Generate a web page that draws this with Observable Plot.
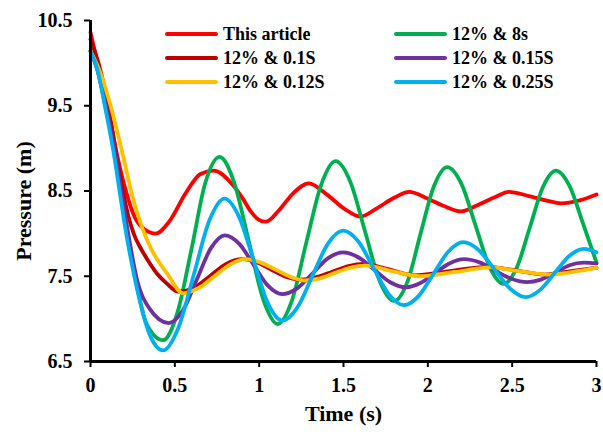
<!DOCTYPE html>
<html><head><meta charset="utf-8">
<script src="https://cdn.jsdelivr.net/npm/d3@7"></script>
<script src="https://cdn.jsdelivr.net/npm/@observablehq/plot@0.6"></script>
<style>
body{margin:0;background:#fff;}
#wrap{position:relative;width:603px;height:432px;font-family:'Liberation Serif','Tinos','DejaVu Serif','Noto Serif',serif;}
#legend{position:absolute;left:0;top:0;width:603px;height:0;}
.item{position:absolute;display:flex;align-items:center;font-weight:bold;font-size:18px;white-space:nowrap;color:#000;height:22px;}
.sw{width:53px;height:4px;border-radius:2px;margin-right:5px;}
</style></head><body><div id="wrap"><div id="legend"></div></div>
<script>
const seriesNames = ["This article", "12% & 8s", "12% & 0.1S", "12% & 0.15S", "12% & 0.12S", "12% & 0.25S"];
const seriesColors = ["#FF0000", "#00B050", "#C00000", "#7030A0", "#FFC000", "#00B0F0"];
const xTicks = [0, 0.5, 1, 1.5, 2, 2.5, 3];
const yTicks = [6.5, 7.5, 8.5, 9.5, 10.5];
const xTitle = "Time (s)";
const yTitle = "Pressure (m)";

const tArticle = [0, 0.059, 0.1, 0.16, 0.21, 0.25, 0.297, 0.386, 0.47, 0.563, 0.652, 0.73, 0.84, 0.9, 0.95, 1.0, 1.04, 1.12, 1.2, 1.295, 1.4, 1.5, 1.6, 1.7, 1.8, 1.89, 2.0, 2.1, 2.195, 2.3, 2.4, 2.48, 2.6, 2.7, 2.79, 2.9, 3.0];
const pArticle = [10.36, 9.85, 9.5, 8.9, 8.5, 8.25, 8.09, 8.0, 8.15, 8.47, 8.70, 8.74, 8.58, 8.42, 8.26, 8.16, 8.14, 8.28, 8.47, 8.59, 8.46, 8.3, 8.2, 8.3, 8.42, 8.49, 8.41, 8.32, 8.26, 8.34, 8.43, 8.49, 8.44, 8.39, 8.355, 8.39, 8.46];

const t8s = [0, 0.04, 0.088, 0.148, 0.178, 0.21, 0.265, 0.33, 0.43, 0.515, 0.6, 0.68, 0.765, 0.85, 0.9375, 1.024, 1.11, 1.195, 1.28, 1.367, 1.453, 1.54, 1.627, 1.713, 1.80, 1.88, 1.957, 2.036, 2.115, 2.2, 2.283, 2.366, 2.45, 2.527, 2.605, 2.683, 2.76, 2.84, 2.92, 3.0];
const p8s = [10.14, 9.93, 9.5, 8.87, 8.48, 8.09, 7.5, 6.95, 6.75, 7.07, 7.83, 8.59, 8.9, 8.61, 7.92, 7.23, 6.94, 7.22, 7.9, 8.57, 8.85, 8.61, 8.03, 7.45, 7.21, 7.44, 8.0, 8.555, 8.78, 8.58, 8.095, 7.61, 7.41, 7.6, 8.075, 8.55, 8.74, 8.56, 8.12, 7.66];

const t01 = [0, 0.05, 0.1, 0.158, 0.194, 0.225, 0.26, 0.3, 0.336, 0.395, 0.455, 0.52, 0.61, 0.707, 0.80, 0.90, 0.985, 1.07, 1.157, 1.245, 1.34, 1.43, 1.53, 1.62, 1.77, 1.92, 2.13, 2.35, 2.52, 2.69, 2.85, 3.0];
const p01 = [10.28, 9.98, 9.55, 8.87, 8.48, 8.2, 7.98, 7.82, 7.7, 7.53, 7.41, 7.32, 7.36, 7.5, 7.64, 7.70, 7.665, 7.58, 7.495, 7.46, 7.49, 7.55, 7.62, 7.645, 7.58, 7.51, 7.56, 7.61, 7.57, 7.52, 7.56, 7.60];

const t015 = [0, 0.04, 0.09, 0.152, 0.183, 0.216, 0.277, 0.35, 0.465, 0.548, 0.631, 0.714, 0.797, 0.882, 0.967, 1.052, 1.137, 1.227, 1.317, 1.407, 1.497, 1.59, 1.683, 1.777, 1.87, 1.956, 2.04, 2.128, 2.215, 2.31, 2.40, 2.495, 2.59, 2.67, 2.758, 2.84, 2.926, 3.0];
const p015 = [10.14, 9.93, 9.5, 8.87, 8.48, 8.09, 7.45, 7.12, 6.95, 7.1, 7.465, 7.83, 7.98, 7.88, 7.635, 7.39, 7.29, 7.36, 7.535, 7.71, 7.78, 7.72, 7.575, 7.43, 7.37, 7.42, 7.535, 7.65, 7.70, 7.66, 7.565, 7.47, 7.43, 7.46, 7.545, 7.63, 7.66, 7.65];

const t012 = [0, 0.065, 0.119, 0.198, 0.243, 0.302, 0.36, 0.455, 0.55, 0.64, 0.735, 0.83, 0.92, 1.01, 1.1, 1.19, 1.275, 1.36, 1.45, 1.54, 1.63, 1.79, 1.95, 2.16, 2.37, 2.54, 2.71, 2.86, 3.0];
const p012 = [10.14, 9.85, 9.5, 8.87, 8.48, 8.09, 7.82, 7.53, 7.30, 7.36, 7.5, 7.64, 7.70, 7.66, 7.575, 7.49, 7.45, 7.475, 7.54, 7.6, 7.625, 7.56, 7.50, 7.55, 7.605, 7.56, 7.52, 7.55, 7.60];

const t025 = [0, 0.04, 0.085, 0.144, 0.174, 0.204, 0.26, 0.30, 0.35, 0.43, 0.52, 0.6125, 0.704, 0.795, 0.88, 0.966, 1.05, 1.137, 1.227, 1.317, 1.407, 1.497, 1.587, 1.677, 1.768, 1.858, 1.946, 2.034, 2.122, 2.21, 2.30, 2.395, 2.49, 2.58, 2.666, 2.753, 2.84, 2.926, 3.0];
const p025 = [10.14, 9.93, 9.5, 8.87, 8.48, 8.09, 7.5, 7.15, 6.82, 6.63, 6.89, 7.52, 8.15, 8.41, 8.2, 7.695, 7.19, 6.98, 7.135, 7.51, 7.88, 8.035, 7.91, 7.6, 7.29, 7.16, 7.27, 7.53, 7.79, 7.90, 7.81, 7.58, 7.35, 7.255, 7.34, 7.54, 7.74, 7.82, 7.78];

const seriesT = [tArticle, t8s, t01, t015, t012, t025];
const seriesP = [pArticle, p8s, p01, p015, p012, p025];

const data = seriesNames.flatMap((name, i) =>
  seriesT[i].map((t, j) => ({series: name, t, p: seriesP[i][j]})));

const font = "'Liberation Serif','Tinos','DejaVu Serif','Noto Serif',serif";

const chart = Plot.plot({
  width: 603, height: 432,
  marginLeft: 90, marginRight: 7, marginTop: 20, marginBottom: 71,
  style: {fontFamily: font, fontSize: "20px", fontWeight: "bold", color: "#000", background: "#fff"},
  x: {domain: [0, 3]},
  y: {domain: [6.5, 10.5]},
  color: {domain: seriesNames, range: seriesColors},
  marks: [
    Plot.axisX({ticks: xTicks, tickFormat: d => String(d), tickSize: 6, tickPadding: 10, strokeWidth: 2, label: null, fontSize: 20, fontFamily: font}),
    Plot.axisY({ticks: yTicks, tickFormat: d => String(d), tickSize: 6, tickPadding: 12, strokeWidth: 2, label: null, fontSize: 20, fontFamily: font}),
    Plot.line(data, {x: "t", y: "p", z: "series", stroke: "series", strokeWidth: 3.8, curve: "monotone-x"}),
    Plot.ruleX([0], {strokeWidth: 3}),
    Plot.ruleY([6.5], {strokeWidth: 3}),
    Plot.text([xTitle], {frameAnchor: "bottom", textAnchor: "middle", lineAnchor: "middle", dy: 52, fontSize: 22, fontWeight: "bold", fontFamily: font}),
    Plot.text([yTitle], {frameAnchor: "left", textAnchor: "middle", lineAnchor: "middle", rotate: -90, dx: -67, dy: 10, fontSize: 22, fontWeight: "bold", fontFamily: font})
  ]
});
document.getElementById("wrap").prepend(chart);

const legend = document.getElementById("legend");
const colLeft = [165, 394];
const rowTop = [23, 47, 71];
seriesNames.forEach((name, i) => {
  const item = document.createElement("div");
  item.className = "item";
  item.style.left = colLeft[i % 2] + "px";
  item.style.top = rowTop[Math.floor(i / 2)] + "px";
  const sw = document.createElement("span");
  sw.className = "sw";
  sw.style.background = seriesColors[i];
  const lab = document.createElement("span");
  lab.textContent = name;
  item.append(sw, lab);
  legend.append(item);
});
</script>
</body></html>
